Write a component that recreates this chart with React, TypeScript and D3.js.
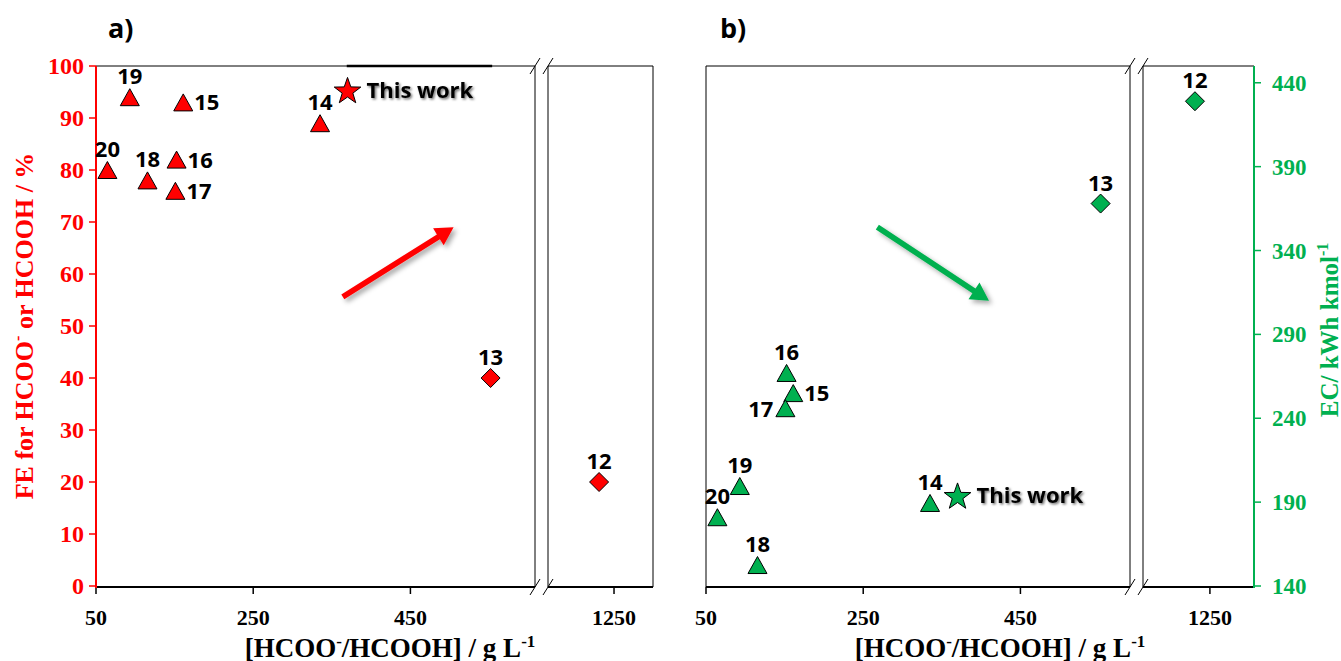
import React from 'react';
import * as d3 from 'd3';

// ---------- data ----------
const refs = ['12', '13', '14', '15', '16', '17', '18', '19', '20', 'This work'];
const conc = [1231, 552, 335, 161, 152.5, 151, 115.5, 93, 64.5, 370];
const feValues = [20, 40, 89, 93, 82, 76, 78, 94, 80, 95.4];
const ecValues = [429, 368, 189.5, 255, 267, 246, 152.5, 199.6, 181, 194];
const shapes = ['diamond', 'diamond', 'triangle', 'triangle', 'triangle', 'triangle', 'triangle', 'triangle', 'triangle', 'star'];
const labelPosA = ['top', 'top', 'top', 'right', 'right', 'right', 'top', 'top', 'top', 'right'];
const labelPosB = ['top', 'top', 'top', 'right', 'top', 'left', 'top', 'top', 'top', 'right'];

const xTicksMain = [50, 250, 450];
const xTicksBreak = [1250];
const feTicks = [0, 10, 20, 30, 40, 50, 60, 70, 80, 90, 100];
const ecTicks = [140, 190, 240, 290, 340, 390, 440];

// trend arrows [x0, y0, x1, y1] in data units
const arrowA = [364, 55.6, 505, 69];
const arrowB = [268, 354, 410, 310];
// stray rule on top of panel a (data x range)
const topRuleA = [369, 554];

const RED = '#FF0000';
const GREEN = '#00B050';
const LABEL_FONT = "'Open Sans', sans-serif";
const SERIF = "'Liberation Serif', 'Times New Roman', serif";

const TOP = 66;
const BOTTOM = 587;

type Panel = {
  left: number; mainRight: number; segLeft: number; segRight: number;
  mainDomain: [number, number]; segDomain: [number, number];
};

const panelA: Panel = { left: 96, mainRight: 535, segLeft: 548, segRight: 653, mainDomain: [50, 608.5], segDomain: [1166, 1299.6] };
const panelB: Panel = { left: 706, mainRight: 1130, segLeft: 1143, segRight: 1254, mainDomain: [50, 589.4], segDomain: [1165, 1306] };

function makeX(p: Panel) {
  const main = d3.scaleLinear().domain(p.mainDomain).range([p.left, p.mainRight]);
  const seg = d3.scaleLinear().domain(p.segDomain).range([p.segLeft, p.segRight]);
  return (v: number) => (v > p.mainDomain[1] ? seg(v) : main(v));
}

function markerPath(shape: string) {
  if (shape === 'triangle') {
    const w = 19, h = 17;
    return `M0,${-h / 2}L${w / 2},${h / 2}L${-w / 2},${h / 2}Z`;
  }
  if (shape === 'diamond') {
    const r = 9.5;
    return `M0,${-r}L${r},0L0,${r}L${-r},0Z`;
  }
  const outer = 14, inner = 5.6;
  const pts: string[] = [];
  for (let i = 0; i < 10; i++) {
    const r = i % 2 === 0 ? outer : inner;
    const a = -Math.PI / 2 + (i * Math.PI) / 5;
    pts.push(`${(r * Math.cos(a)).toFixed(2)},${(r * Math.sin(a) + 1.5).toFixed(2)}`);
  }
  return 'M' + pts.join('L') + 'Z';
}

function arrowPath(x0: number, y0: number, x1: number, y1: number) {
  const dx = x1 - x0, dy = y1 - y0;
  const len = Math.sqrt(dx * dx + dy * dy);
  const ux = dx / len, uy = dy / len;
  const nx = -uy, ny = ux;
  const sw = 2.8, hw = 10, hl = 18;
  const bx = x1 - ux * hl, by = y1 - uy * hl;
  const p = [
    [x0 + nx * sw, y0 + ny * sw],
    [bx + nx * sw, by + ny * sw],
    [bx + nx * hw, by + ny * hw],
    [x1, y1],
    [bx - nx * hw, by - ny * hw],
    [bx - nx * sw, by - ny * sw],
    [x0 - nx * sw, y0 - ny * sw],
  ];
  return 'M' + p.map((q) => q[0].toFixed(1) + ',' + q[1].toFixed(1)).join('L') + 'Z';
}

function Frame({ p, x }: { p: Panel; x: (v: number) => number }) {
  const slash = (cx: number, cy: number, k: string) => (
    <line key={k} x1={cx - 5} y1={cy + 8} x2={cx + 5} y2={cy - 8} stroke="#000" strokeWidth={1} />
  );
  return (
    <g>
      {/* main area borders */}
      <line x1={p.left} y1={TOP} x2={p.mainRight} y2={TOP} stroke="#000" strokeWidth={1} />
      <line x1={p.mainRight} y1={TOP} x2={p.mainRight} y2={BOTTOM} stroke="#000" strokeWidth={1} />
      <line x1={p.segLeft} y1={TOP} x2={p.segRight} y2={TOP} stroke="#000" strokeWidth={1} />
      <line x1={p.segLeft} y1={TOP} x2={p.segLeft} y2={BOTTOM} stroke="#000" strokeWidth={1} />
      <line x1={p.segRight} y1={TOP} x2={p.segRight} y2={BOTTOM} stroke="#000" strokeWidth={1} />
      {/* bottom axis */}
      <line x1={p.left} y1={BOTTOM} x2={p.mainRight} y2={BOTTOM} stroke="#000" strokeWidth={2} />
      <line x1={p.segLeft} y1={BOTTOM} x2={p.segRight} y2={BOTTOM} stroke="#000" strokeWidth={2} />
      {slash(p.mainRight, TOP, 'a')}
      {slash(p.segLeft, TOP, 'b')}
      {slash(p.mainRight, BOTTOM, 'c')}
      {slash(p.segLeft, BOTTOM, 'd')}
      {[...xTicksMain, ...xTicksBreak].map((t) => (
        <g key={t}>
          <line x1={x(t)} y1={BOTTOM} x2={x(t)} y2={BOTTOM + 7} stroke="#000" strokeWidth={1.5} />
          <text x={x(t)} y={625} textAnchor="middle" fontFamily={SERIF} fontWeight="bold" fontSize={22} fill="#000">
            {t}
          </text>
        </g>
      ))}
      <text x={p.left + 294} y={657} textAnchor="middle" fontFamily={SERIF} fontWeight="bold" fontSize={27} fill="#000">
        [HCOO<tspan fontSize={17} dy={-10}>-</tspan>
        <tspan dy={10}>/HCOOH] / g L</tspan>
        <tspan fontSize={17} dy={-10}>-1</tspan>
      </text>
    </g>
  );
}

function Points({ x, y, values, color, pos }: { x: (v: number) => number; y: d3.ScaleLinear<number, number>; values: number[]; color: string; pos: string[] }) {
  return (
    <g>
      {refs.map((r, i) => {
        const cx = x(conc[i]);
        const cy = y(values[i]);
        const p = pos[i];
        const isWork = r === 'This work';
        let tx = cx, ty = cy - 13, anchor: 'middle' | 'start' | 'end' = 'middle';
        if (p === 'right') { tx = cx + (isWork ? 19 : 11); ty = cy + 8; anchor = 'start'; }
        if (p === 'left') { tx = cx - 12; ty = cy + 9; anchor = 'end'; }
        return (
          <g key={r}>
            <path d={markerPath(shapes[i])} transform={`translate(${cx},${cy})`} fill={color} stroke="#000" strokeWidth={1} />
            <text x={tx} y={ty} textAnchor={anchor} fontFamily={LABEL_FONT} fontWeight="bold" fontSize={22} fill="#000" filter={isWork ? 'url(#txtShadow)' : undefined}>
              {r}
            </text>
          </g>
        );
      })}
    </g>
  );
}

export default function App() {
  const xA = makeX(panelA);
  const xB = makeX(panelB);
  const yA = d3.scaleLinear().domain([0, 100]).range([BOTTOM - 1, TOP]);
  const yB = d3.scaleLinear().domain([140, 450]).range([BOTTOM - 1, TOP]);

  return (
    <svg width={1341} height={661} style={{ position: 'absolute', left: 0, top: 0, background: '#fff' }}>
      <defs>
        <filter id="txtShadow" x="-10%" y="-30%" width="130%" height="170%">
          <feDropShadow dx={1.5} dy={1.5} stdDeviation={1.2} floodColor="#000" floodOpacity={0.55} />
        </filter>
        <filter id="arrowShadow" x="-20%" y="-40%" width="150%" height="190%">
          <feDropShadow dx={3} dy={3} stdDeviation={2.5} floodColor="#000" floodOpacity={0.35} />
        </filter>
      </defs>
      <rect width={1341} height={661} fill="#fff" />

      {/* panel titles */}
      <text x={108} y={38} fontFamily={LABEL_FONT} fontWeight="bold" fontSize={27} fill="#000">a)</text>
      <text x={720} y={38} fontFamily={LABEL_FONT} fontWeight="bold" fontSize={27} fill="#000">b)</text>

      {/* ---------- panel a ---------- */}
      <Frame p={panelA} x={xA} />
      <line x1={xA(topRuleA[0])} y1={TOP} x2={xA(topRuleA[1])} y2={TOP} stroke="#000" strokeWidth={2.5} />
      <line x1={panelA.left} y1={TOP} x2={panelA.left} y2={BOTTOM + 1} stroke={RED} strokeWidth={2} />
      {feTicks.map((t) => (
        <g key={t}>
          <line x1={panelA.left - 7} y1={yA(t)} x2={panelA.left} y2={yA(t)} stroke={RED} strokeWidth={1.5} />
          <text x={84} y={yA(t)} dy="0.35em" textAnchor="end" fontFamily={SERIF} fontWeight="bold" fontSize={24} fill={RED}>
            {t}
          </text>
        </g>
      ))}
      <text transform="translate(33,326) rotate(-90)" textAnchor="middle" fontFamily={SERIF} fontWeight="bold" fontSize={26} fill={RED}>
        FE for HCOO<tspan fontSize={16} dy={-10}>-</tspan>
        <tspan dy={10}> or HCOOH / %</tspan>
      </text>
      <path d={arrowPath(xA(arrowA[0]), yA(arrowA[1]), xA(arrowA[2]), yA(arrowA[3]))} fill={RED} filter="url(#arrowShadow)" />
      <Points x={xA} y={yA} values={feValues} color={RED} pos={labelPosA} />

      {/* ---------- panel b ---------- */}
      <Frame p={panelB} x={xB} />
      <line x1={panelB.left} y1={TOP} x2={panelB.left} y2={BOTTOM} stroke="#000" strokeWidth={1} />
      <line x1={panelB.segRight} y1={TOP} x2={panelB.segRight} y2={BOTTOM + 1} stroke={GREEN} strokeWidth={2} />
      {ecTicks.map((t) => (
        <g key={t}>
          <line x1={panelB.segRight} y1={yB(t)} x2={panelB.segRight + 7} y2={yB(t)} stroke={GREEN} strokeWidth={1.5} />
          <text x={1272} y={yB(t)} dy="0.35em" textAnchor="start" fontFamily={SERIF} fontWeight="bold" fontSize={23} fill={GREEN}>
            {t}
          </text>
        </g>
      ))}
      <text transform="translate(1338,330) rotate(-90)" textAnchor="middle" fontFamily={SERIF} fontWeight="bold" fontSize={25} fill={GREEN}>
        EC/  kWh kmol<tspan fontSize={16} dy={-10}>-1</tspan>
      </text>
      <path d={arrowPath(xB(arrowB[0]), yB(arrowB[1]), xB(arrowB[2]), yB(arrowB[3]))} fill={GREEN} filter="url(#arrowShadow)" />
      <Points x={xB} y={yB} values={ecValues} color={GREEN} pos={labelPosB} />
    </svg>
  );
}
